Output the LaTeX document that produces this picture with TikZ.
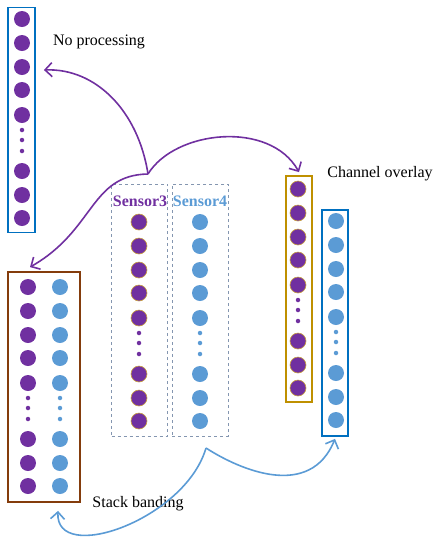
\documentclass[tikz,border=0pt]{standalone}
\usepackage{fontspec}
\setmainfont{Liberation Serif}
\usetikzlibrary{arrows.meta}

\definecolor{vio}{HTML}{7030A0}
\definecolor{sky}{HTML}{5B9BD5}
\definecolor{deepblue}{HTML}{0070C0}
\definecolor{ochre}{HTML}{BF9000}
\definecolor{rust}{HTML}{843C0C}
\definecolor{slate}{HTML}{8496B0}
\definecolor{rim}{HTML}{C8A040}

% one column of beads: name prefix, x, y of the top bead, bead style
\newcommand{\beadcol}[4]{%
  \foreach \k/\dy in {1/0,2/24,3/48,4/71,5/96,9/152,10/176,11/199}
    \node[#4] (#1\k) at (#2,#3+\dy) {};
  \foreach \k/\dy in {6/111,7/121,8/132}
    \node[#4,tiny] (#1\k) at (#2,#3+\dy) {};
}

\begin{document}
\begin{tikzpicture}[
  x=1pt, y=-1pt,
  bead/.style={circle, inner sep=0pt, minimum size=16pt},
  pbead/.style={bead, fill=vio},
  rbead/.style={bead, fill=vio, draw=rim, line width=0.6pt},
  bbead/.style={bead, fill=sky},
  tiny/.style={minimum size=4.5pt, draw=none},
  frame/.style={draw, line width=1.8pt, inner sep=0pt},
  dbox/.style={draw=slate, dashed, line width=0.8pt, inner sep=0pt,
               minimum width=56pt, minimum height=252pt},
  lbl/.style={font=\fontsize{16}{19}\selectfont},
  parr/.style={-{Straight Barb[length=7pt,width=14pt]}, vio, line width=1.6pt},
  barr/.style={-{Straight Barb[length=7pt,width=14pt]}, sky, line width=1.6pt},
]
  \useasboundingbox (0,0) rectangle (439,550);

  % boxes
  \node[frame, draw=deepblue, minimum width=27pt, minimum height=225pt] (np) at (21.5,120) {};
  \node[dbox] (s3) at (139.5,310) {};
  \node[dbox] (s4) at (200,310) {};
  \node[frame, draw=ochre, minimum width=26pt, minimum height=226pt] (co1) at (299,289) {};
  \node[frame, draw=deepblue, minimum width=26pt, minimum height=226pt] (co2) at (335,323) {};
  \node[frame, draw=rust, minimum width=72pt, minimum height=230pt] (sb) at (44,387) {};

  % beads
  \beadcol{np}{22}{19}{pbead}
  \beadcol{sa}{139}{222}{rbead}
  \beadcol{sb}{200}{222}{bbead}
  \beadcol{ca}{298}{189}{rbead}
  \beadcol{cb}{336}{221}{bbead}
  \beadcol{ka}{28}{287}{pbead}
  \beadcol{kb}{60}{287}{bbead}

  % labels
  \node[lbl] (tnp) at (99,42) {No processing};
  \node[lbl, font=\fontsize{16}{19}\selectfont\bfseries, text=vio] (t3) at (140,201) {Sensor3};
  \node[lbl, font=\fontsize{16}{19}\selectfont\bfseries, text=sky] (t4) at (200,201) {Sensor4};
  \node[lbl] (tco) at (380,174) {Channel overlay};
  \node[lbl] (tsb) at (138,504) {Stack banding};

  % connectors
  \coordinate (pa) at (148,174);
  \coordinate (ba) at (206,448);
  \draw[parr] (pa) .. controls (138,110) and (95,68) .. ([xshift=8pt,yshift=50pt]np.east);
  \draw[parr] (pa) .. controls (175,130) and (270,120) .. ([yshift=3pt]co1.north);
  \draw[parr] (pa) .. controls (90,175) and (95,230) .. ([xshift=-14pt,yshift=4pt]sb.north);
  \draw[barr] (ba) .. controls (185,520) and (55,565) .. ([xshift=14pt,yshift=-8pt]sb.south);
  \draw[barr] (ba) .. controls (240,470) and (310,500) .. ([yshift=-2pt]co2.south);
\end{tikzpicture}
\end{document}
